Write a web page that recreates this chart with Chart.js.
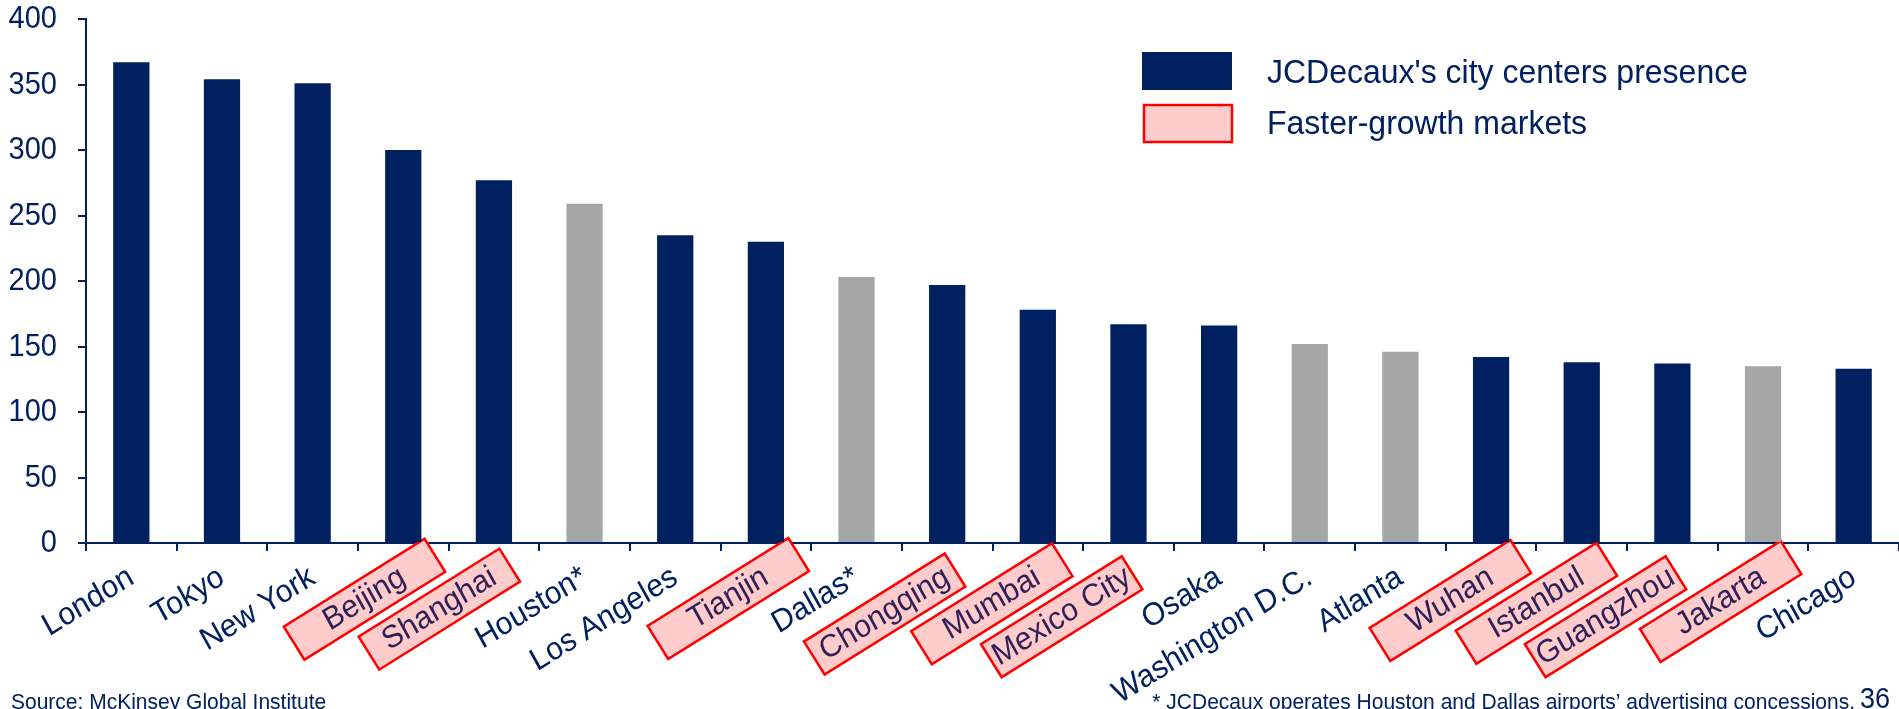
<!DOCTYPE html>
<html>
<head>
<meta charset="utf-8">
<script src="https://cdn.jsdelivr.net/npm/chart.js@4.4.1/dist/chart.umd.min.js"></script>
<style>
  html, body { margin: 0; padding: 0; background: #fff; overflow: hidden; }
  canvas { display: block; }
</style>
</head>
<body>
<canvas id="cityChart" width="1899" height="709"></canvas>
<script>
// ---- data ----
const cities = ["London", "Tokyo", "New York", "Beijing", "Shanghai", "Houston*", "Los Angeles",
  "Tianjin", "Dallas*", "Chongqing", "Mumbai", "Mexico City", "Osaka", "Washington D.C.",
  "Atlanta", "Wuhan", "Istanbul", "Guangzhou", "Jakarta", "Chicago"];
const values = [367, 354, 351, 300, 277, 259, 235, 230, 203, 197, 178, 167, 166, 152, 146, 142, 138, 137, 135, 133];
// 1 = JCDecaux city centre presence, 0 = airport only / none
const presence = [1, 1, 1, 1, 1, 0, 1, 1, 0, 1, 1, 1, 1, 0, 0, 1, 1, 1, 0, 1];
const fasterGrowth = ["Beijing", "Shanghai", "Tianjin", "Chongqing", "Mumbai", "Mexico City",
  "Wuhan", "Istanbul", "Guangzhou", "Jakarta"];
const yMin = 0, yMax = 400, yStep = 50;
const legendLabels = ["JCDecaux's city centers presence", "Faster-growth markets"];
const sourceText = "Source: McKinsey Global Institute";
const noteText = "* JCDecaux operates Houston and Dallas airports\u2019 advertising concessions.";
const pageNo = "36";

// ---- style ----
const NAVY = "#002060";
const GREY = "#A6A6A6";
const PINK = "#FFCCCC";
const RED = "#FF0000";
const BOXTEXT = "#30205a";
const FONT = '"Liberation Sans", Arial, sans-serif';
const K = 1.06;                 // text is a bit taller than Arial in the original
const ROT = 32;                 // visible label angle
const ALPHA = Math.atan(Math.tan(ROT * Math.PI / 180) / K);
const XFONT = 30, YFONT = 29;

Chart.defaults.font.family = FONT;
Chart.defaults.color = NAVY;

function tallText(ctx, text, x, y, align, baseline, angle) {
  ctx.save();
  ctx.translate(x, y);
  ctx.scale(1, K);
  if (angle) ctx.rotate(-angle);
  ctx.textAlign = align;
  ctx.textBaseline = baseline;
  ctx.fillText(text, 0, 0);
  ctx.restore();
}

// where the end of each x label sits
function labelAnchor(xs, i) {
  return { x: xs.getPixelForValue(i), y: xs.top + 32 };
}

// axis labels + pink boxes, drawn from the chart's own scales
const axisLabels = {
  id: "axisLabels",
  beforeDatasetsDraw(chart) {
    const ctx = chart.ctx;
    const xs = chart.scales.x;
    const ys = chart.scales.y;
    const r = ROT * Math.PI / 180;
    ctx.save();
    ctx.font = XFONT + "px " + FONT;

    // boxes first
    cities.forEach((c, i) => {
      if (!fasterGrowth.includes(c)) return;
      const w = ctx.measureText(c).width;
      const a = labelAnchor(xs, i);
      const cx = a.x - w / 2 * Math.cos(ALPHA);
      const cy = a.y + w / 2 * K * Math.sin(ALPHA);
      ctx.save();
      ctx.translate(cx, cy);
      ctx.rotate(-r);
      ctx.fillStyle = PINK;
      ctx.strokeStyle = RED;
      ctx.lineWidth = 2.5;
      ctx.fillRect(-83, -19.5, 166, 39);
      ctx.strokeRect(-83, -19.5, 166, 39);
      ctx.restore();
    });

    // x labels
    cities.forEach((c, i) => {
      const a = labelAnchor(xs, i);
      ctx.fillStyle = fasterGrowth.includes(c) ? BOXTEXT : NAVY;
      tallText(ctx, c, a.x, a.y, "right", "middle", ALPHA);
    });

    // y labels
    ctx.font = YFONT + "px " + FONT;
    ctx.fillStyle = NAVY;
    ys.ticks.forEach(t => {
      tallText(ctx, String(t.value), ys.right - 29, ys.getPixelForValue(t.value) + 1, "right", "middle", 0);
    });
    ctx.restore();
  }
};

// legend inside the plot + footnotes
const extras = {
  id: "extras",
  afterDraw(chart) {
    const ctx = chart.ctx;
    ctx.save();
    ctx.fillStyle = NAVY;
    ctx.fillRect(1142, 52, 90, 38);
    ctx.fillStyle = PINK;
    ctx.fillRect(1144, 105, 88, 37);
    ctx.strokeStyle = RED;
    ctx.lineWidth = 2.5;
    ctx.strokeRect(1144, 105, 88, 37);

    ctx.fillStyle = NAVY;
    ctx.font = "32px " + FONT;
    tallText(ctx, legendLabels[0], 1267, 83, "left", "alphabetic", 0);
    tallText(ctx, legendLabels[1], 1267, 134, "left", "alphabetic", 0);

    ctx.font = "21px " + FONT;
    tallText(ctx, sourceText, 11, 708.5, "left", "alphabetic", 0);
    tallText(ctx, noteText, 1855, 708.5, "right", "alphabetic", 0);
    ctx.font = "27px " + FONT;
    tallText(ctx, pageNo, 1860, 708, "left", "alphabetic", 0);
    ctx.restore();
  }
};

const ctx = document.getElementById("cityChart").getContext("2d");
new Chart(ctx, {
  type: "bar",
  data: {
    labels: cities,
    datasets: [{
      data: values,
      backgroundColor: presence.map(p => p ? NAVY : GREY),
      borderWidth: 0,
      barPercentage: 0.4,
      categoryPercentage: 1.0
    }]
  },
  options: {
    responsive: false,
    animation: false,
    layout: { padding: { top: 19, left: 0, right: 0, bottom: 0 } },
    plugins: {
      legend: { display: false },
      tooltip: { enabled: false }
    },
    scales: {
      x: {
        grid: { display: true, drawOnChartArea: false, drawTicks: true, tickLength: 8, color: NAVY, lineWidth: 2 },
        border: { display: true, color: NAVY, width: 2 },
        ticks: { display: false, autoSkip: false },
        afterFit(scale) { scale.height = 709 - 543; }
      },
      y: {
        min: yMin,
        max: yMax,
        grid: { display: true, drawOnChartArea: false, drawTicks: true, tickLength: 8, color: NAVY, lineWidth: 2 },
        border: { display: true, color: NAVY, width: 2 },
        ticks: { display: false, stepSize: yStep },
        afterFit(scale) { scale.width = 86; }
      }
    }
  },
  plugins: [axisLabels, extras]
});
</script>
</body>
</html>
